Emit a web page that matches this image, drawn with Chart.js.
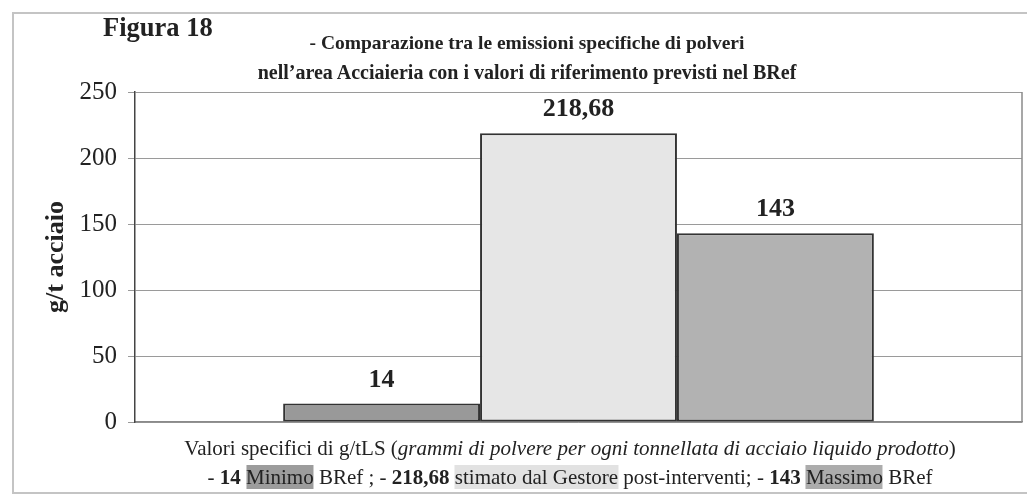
<!DOCTYPE html>
<html lang="it">
<head>
<meta charset="utf-8">
<title>Figura 18</title>
<script src="https://cdn.jsdelivr.net/npm/chart.js@4.4.1/dist/chart.umd.min.js"></script>
<style>
    html, body { margin: 0; padding: 0; background: #fff; }
    body { width: 1027px; height: 498px; position: relative; overflow: hidden;
           font-family: "Liberation Serif", "Times New Roman", serif; color: #222; }
    #frame { position: absolute; left: 12px; top: 12px; width: 1030px; height: 482px;
             border: 2px solid #c4c4c4; box-sizing: border-box; }
    #wrap  { position: absolute; left: 0; top: 0; width: 1027px; height: 498px; }
    .txt   { position: absolute; white-space: nowrap; }
    .fig   { left: 103px; top: 12px; font-size: 26.5px; font-weight: bold; }
    .t1, .t2 { left: 527px; transform: translateX(-50%); font-size: 20px; font-weight: bold; }
    .t1    { top: 32px; font-size: 19.5px; }
    .t2    { top: 61px; }
    .c1, .c2 { left: 570px; transform: translateX(-50%); font-size: 21px; }
    .c1    { top: 436px; }
    .c2    { top: 465px; }
    .hl-min { background: #9c9c9c; }
    .hl-gest { background: #e2e2e2; }
    .hl-max { background: #acacac; }
</style>
</head>
<body>
<div id="frame"></div>
<div id="wrap"><canvas id="chart" width="1027" height="498"></canvas></div>

<div class="txt fig">Figura 18</div>
<div class="txt t1">- Comparazione tra le emissioni specifiche di polveri</div>
<div class="txt t2">nell’area Acciaieria con i valori di riferimento previsti nel BRef</div>
<div class="txt c1">Valori specifici di g/tLS (<i>grammi di polvere per ogni tonnellata di acciaio liquido prodotto</i>)</div>
<div class="txt c2">- <b>14</b> <span class="hl-min">Minimo</span> BRef ; - <b>218,68</b> <span class="hl-gest">stimato dal Gestore</span> post-interventi; - <b>143</b> <span class="hl-max">Massimo</span> BRef</div>

<script>
// ── Data ─────────────────────────────────────────────────
const categories  = [''];
const seriesNames = ['Minimo BRef', 'Stimato dal Gestore post-interventi', 'Massimo BRef'];
const seriesVals  = [14, 218.68, 143];
const seriesFill  = ['#999999', '#e6e6e6', '#b2b2b2'];
const yTicks      = [0, 50, 100, 150, 200, 250];

const SERIF = '"Liberation Serif", "Times New Roman", serif';

// ── Plugins ──────────────────────────────────────────────
// value labels above each bar, Italian decimal comma
const valueLabels = {
    id: 'valueLabels',
    afterDatasetsDraw(chart) {
        const ctx = chart.ctx;
        ctx.save();
        ctx.font = 'bold 26px ' + SERIF;
        ctx.fillStyle = '#222';
        ctx.textAlign = 'center';
        ctx.textBaseline = 'alphabetic';
        chart.data.datasets.forEach((ds, i) => {
            const bar = chart.getDatasetMeta(i).data[0];
            const txt = String(ds.data[0]).replace('.', ',');
            ctx.fillText(txt, bar.x, bar.y - 17);
        });
        ctx.restore();
    }
};

// right edge of the plot frame
const plotFrame = {
    id: 'plotFrame',
    afterDraw(chart) {
        const { ctx, chartArea: a } = chart;
        ctx.save();
        ctx.strokeStyle = '#8a8a8a';
        ctx.lineWidth = 1.5;
        ctx.beginPath();
        ctx.moveTo(a.right, a.top);
        ctx.lineTo(a.right, a.bottom);
        ctx.stroke();
        ctx.restore();
    }
};

// ── Chart ────────────────────────────────────────────────
new Chart(document.getElementById('chart'), {
    type: 'bar',
    data: {
        labels: categories,
        datasets: seriesNames.map((name, i) => ({
            label: name,
            data: [seriesVals[i]],
            backgroundColor: seriesFill[i],
            borderColor: '#333',
            borderWidth: 2,
            borderSkipped: false,
            categoryPercentage: 0.666,
            barPercentage: 1,
        })),
    },
    options: {
        responsive: false,
        animation: false,
        layout: { padding: { left: 37, top: 92, right: 5, bottom: 76 } },
        plugins: {
            legend: { display: false },
            tooltip: { enabled: false },
        },
        scales: {
            x: {
                ticks: { display: false },
                grid: { display: false, drawTicks: false },
                border: { display: true, color: '#8a8a8a', width: 1.5 },
            },
            y: {
                min: 0,
                max: 250,
                afterFit(scale) { scale.width = 98; },
                afterBuildTicks(scale) { scale.ticks = yTicks.map(v => ({ value: v })); },
                ticks: {
                    color: '#222',
                    padding: 11,
                    font: { family: SERIF, size: 25 },
                },
                grid: { color: '#9a9a9a', lineWidth: 1, tickLength: 7 },
                border: { display: true, color: '#444', width: 1.5 },
                title: {
                    display: true,
                    text: 'g/t acciaio',
                    color: '#222',
                    font: { family: SERIF, size: 26, weight: 'bold' },
                },
            },
        },
    },
    plugins: [valueLabels, plotFrame],
});
</script>
</body>
</html>
